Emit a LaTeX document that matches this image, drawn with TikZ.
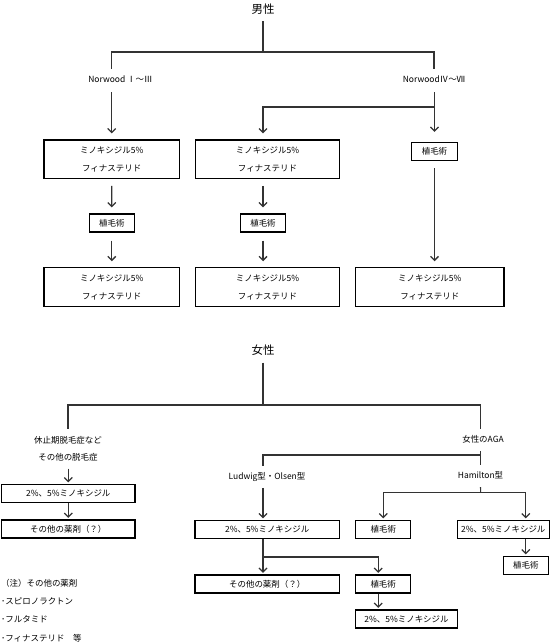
\documentclass[tikz,border=0pt]{standalone}
\usepackage{fontspec}
\newfontfamily\jp{Noto Sans CJK JP}
\usetikzlibrary{arrows.meta}
\tikzset{
	title/.style={font=\jp\fontsize{11.5}{13}\selectfont, inner sep=7bp},
	lbl/.style={font=\jp\fontsize{8.5}{10}\selectfont, inner xsep=1bp, inner ysep=7bp, text height=6.5bp, text depth=1.5bp},
	mlbl/.style={font=\jp\fontsize{8.5}{17.7}\selectfont, inner xsep=1bp, inner ysep=7bp, align=center},
	box/.style={draw=black, line width=1.2bp, font=\jp\fontsize{8.5}{10}\selectfont, minimum height=18bp, inner sep=0pt},
	dbox/.style={box, font=\jp\fontsize{8.5}{18}\selectfont, minimum height=38.3bp, align=center},
	ln/.style={draw=black!80, line width=1.1bp},
	arr/.style={ln, -{Straight Barb[length=4bp,width=8bp,line width=1.3bp]}, shorten >=6bp},
	farr/.style={arr, shorten >=1.5bp}
}
\begin{document}
\begin{tikzpicture}[x=1bp, y=-1bp]
			\useasboundingbox (0,0) rectangle (550,644);
			%%%%% MALE %%%%%
			\node[title] (man) at (263,9) {男性};
			\node[lbl] (nwA) at (120.5,80) {Norwood Ⅰ～Ⅲ};
			\node[lbl] (nwB) at (434,80) {NorwoodⅣ～Ⅶ};
			
			\node[dbox, minimum width=135.3bp] (mA1) at (111.7,159.2) {ミノキシジル5\%\\フィナステリド};
			\node[box, minimum width=45bp] (mA2) at (111.8,223) {植毛術};
			\node[dbox, minimum width=135.3bp] (mA3) at (111.7,287) {ミノキシジル5\%\\フィナステリド};
			
			\node[dbox, minimum width=144bp] (mB1) at (267.5,159.2) {ミノキシジル5\%\\フィナステリド};
			\node[box, minimum width=45bp] (mB2) at (263,223) {植毛術};
			\node[dbox, minimum width=144bp] (mB3) at (267.5,287) {ミノキシジル5\%\\フィナステリド};
			
			\node[box, minimum width=45.6bp] (mC1) at (434.5,151.5) {植毛術};
			\node[dbox, minimum width=148.4bp] (mC3) at (429.8,287) {ミノキシジル5\%\\フィナステリド};
			
			\coordinate (mbar) at (263,52);
			\coordinate (mbr) at (434.5,107);
			\draw[ln] (man.south) -- (mbar);
			\draw[ln] (mA1.north |- nwA.north) |- (mbar) -| (nwB.north);
			
			\draw[arr, shorten <=1bp] (mA1.north |- nwA.south) -- (mA1.north);
			\draw[arr, shorten <=7bp] (mA1.south) -- (mA2.north);
			\draw[arr, shorten <=8bp] (mA2.south) -- (mA2.south |- mA3.north);
			
			\draw[arr] (mbr) -| (mB2 |- mB1.north);
			\draw[arr, shorten <=7bp] (mB2 |- mB1.south) -- (mB2.north);
			\draw[arr, shorten <=8bp] (mB2.south) -- (mB2 |- mB3.north);
			
			\draw[arr, shorten <=1bp, shorten >=10bp] (mC1.north |- nwB.south) -- (mC1.north);
			\draw[arr, shorten <=7bp] (mC1.south) -- (mC1.south |- mC3.north);
			
			%%%%% FEMALE %%%%%
			\node[title] (woman) at (263,350) {女性};
			\node[mlbl] (fL) at (68,448.8) {休止期脱毛症など\\その他の脱毛症};
			\node[lbl] (fR) at (483,440) {女性のAGA};
			\node[lbl] (ld) at (267,476.7) {Ludwig型・Olsen型};
			\node[lbl] (hm) at (480.5,476) {Hamilton型};
			
			\node[box, minimum width=133.3bp] (wL1) at (68.3,493.5) {2\%、5\%ミノキシジル};
			\node[box, minimum width=133.3bp] (wL2) at (68.3,529) {その他の薬剤（？）};
			
			\node[box, minimum width=144.3bp] (wM1) at (267.2,529.5) {2\%、5\%ミノキシジル};
			\node[box, minimum width=144.3bp] (wM2) at (267.2,584) {その他の薬剤（？）};
			\node[box, minimum width=55bp] (wM3) at (383.2,584) {植毛術};
			\node[box, minimum width=101.6bp] (wM4) at (406.5,619) {2\%、5\%ミノキシジル};
			
			\node[box, minimum width=55bp] (wR1) at (383.3,529.5) {植毛術};
			\node[box, minimum width=92bp] (wR2) at (503.3,529.5) {2\%、5\%ミノキシジル};
			\node[box, minimum width=45bp] (wR3) at (525.8,565.5) {植毛術};
			
			\coordinate (wbar) at (263,405);
			\coordinate (wbr) at (263,455);
			\coordinate (hbr) at (480.7,492.7);
			\coordinate (mbr2) at (263,557);
			
			\draw[ln] (woman.south) -- (wbar);
			\draw[ln] (fL.north) |- (wbar) -| (hm.north |- fR.north);
			\draw[ln] (hm.north |- fR.south) -- (hm.north);
			\draw[ln] (hm.north |- wbr) -- (wbr) -- (wbr |- ld.north);
			
			\draw[farr] (wL1.north |- fL.south) -- (wL1.north);
			\draw[farr] (wL1.south) -- (wL2.north);
			
			\draw[farr] (wbr |- ld.south) -- (wbr |- wM1.north);
			\draw[farr] (wbr |- wM1.south) -- (wbr |- wM2.north);
			\draw[farr] (mbr2) -| ([xshift=-5bp]wM3.north);
			\draw[farr] ([xshift=-5bp]wM3.south) -- ([xshift=-5bp]wM3.south |- wM4.north);
			
			\draw[ln] (hm.south) -- (hbr);
			\draw[farr] (hbr) -| (wR1.north);
			\draw[farr] (hbr) -| (wR3.north |- wR2.north);
			\draw[farr] (wR3.north |- wR2.south) -- (wR3.north);
			
			% note
			\node[font=\jp\fontsize{8.5}{18.3}\selectfont, align=left, inner sep=1bp, anchor=west] (note) at (0,610.5) {（注）その他の薬剤\\･スピロノラクトン\\･フルタミド\\･フィナステリド　等};
			%%%%% END %%%%%
\end{tikzpicture}
\end{document}
